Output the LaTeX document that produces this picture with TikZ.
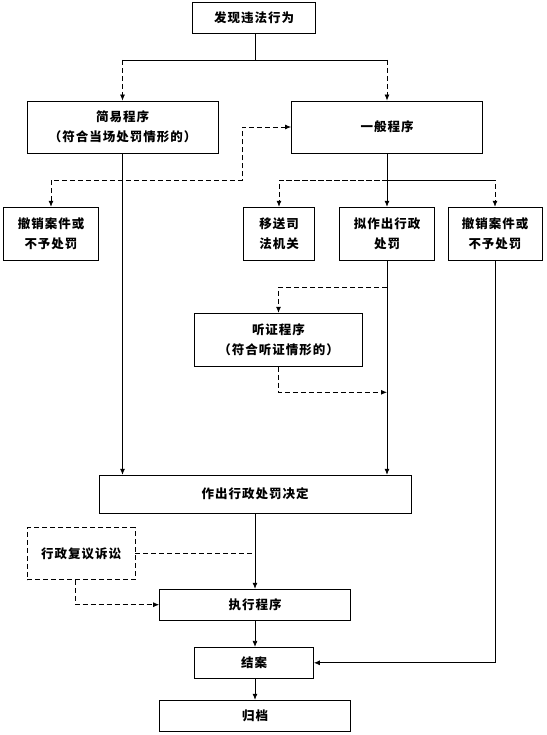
\documentclass[tikz,border=0pt]{standalone}
\usepackage{fontspec}
\setmainfont{Noto Sans CJK SC}[LetterSpace=8]
\usetikzlibrary{arrows.meta}

\begin{document}
\begin{tikzpicture}[x=1pt, y=-1pt,
    box/.style={rectangle, draw=black, line width=0.8pt, text centered, align=center, inner sep=0pt, font=\fontsize{12.5}{20}\selectfont\bfseries},
    dbox/.style={box, dash pattern=on 5pt off 3pt},
    arrow/.style={line width=0.8pt, -{Latex[length=6pt,width=5pt]}},
    darrow/.style={arrow, dash pattern=on 5pt off 3pt},
    dline/.style={line width=0.8pt, dash pattern=on 5pt off 3pt}
]
    \useasboundingbox (0,0) rectangle (546,735);

    % top
    \node[box, minimum width=123pt, minimum height=31pt] (found) at (254,17.5) {发现违法行为};
    \node[box, minimum width=191pt, minimum height=52pt] (simple) at (122.5,127) {简易程序\\（符合当场处罚情形的）};
    \node[box, minimum width=191pt, minimum height=52pt] (general) at (387,127) {一般程序};

    % third row
    \node[box, minimum width=95pt, minimum height=53pt] (revokeL) at (51,233.7) {撤销案件或\\不予处罚};
    \node[box, minimum width=71pt, minimum height=53pt] (transfer) at (279,233.7) {移送司\\法机关};
    \node[box, minimum width=95pt, minimum height=53pt] (propose) at (387,233.7) {拟作出行政\\处罚};
    \node[box, minimum width=94pt, minimum height=53pt] (revokeR) at (495,233.7) {撤销案件或\\不予处罚};

    \node[box, minimum width=168pt, minimum height=53pt] (hearing) at (278.5,339.7) {听证程序\\（符合听证情形的）};

    % bottom
    \node[box, minimum width=312pt, minimum height=38pt] (decide) at (255,494.2) {作出行政处罚决定};
    \node[dbox, minimum width=108pt, minimum height=52pt] (review) at (81,553.8) {行政复议诉讼};
    \node[box, minimum width=191pt, minimum height=31pt] (execute) at (255,604.7) {执行程序};
    \node[box, minimum width=119pt, minimum height=31pt] (close) at (254,662.8) {结案};
    \node[box, minimum width=191pt, minimum height=31pt] (archive) at (255,715.7) {归档};

    \coordinate (split) at (255,60);
    \coordinate (turn) at (242.3,180);
    \coordinate (fork) at (387,180);
    \coordinate (hearin) at (387,287.3);
    \coordinate (hearout) at (387,392.3);

    \draw[line width=0.8pt] (found.south -| split) -- (split);
    \draw[line width=0.8pt] (simple.north |- split) -- (general.north |- split);
    \draw[darrow] (simple.north |- split) -- (simple.north);
    \draw[darrow] (general.north |- split) -- (general.north);

    \draw[darrow, {Latex[length=6pt,width=5pt]}-{Latex[length=6pt,width=5pt]}] (revokeL.north) |- (turn) |- (general.west);

    \draw[arrow] (general.south) -- (propose.north);
    \draw[dline] (fork -| transfer.north) -- (fork -| revokeR.north);
    \draw[darrow] (fork) -| (transfer.north);
    \draw[darrow] (fork) -| (revokeR.north);

    \draw[arrow] (simple.south) -- (simple.south |- decide.north);
    \draw[arrow] (propose.south) -- (propose.south |- decide.north);
    \draw[darrow] (hearin) -| (hearing.north);
    \draw[darrow] (hearing.south) |- (hearout);

    \draw[arrow] (revokeR.south) |- (close.east);

    \draw[arrow] (decide.south) -- (execute.north);
    \draw[dline] (review.east) -- (review.east -| decide.south);
    \draw[darrow] ([xshift=-6pt]review.south) |- (execute.west);
    \draw[arrow] (execute.south) -- (close.north -| execute.south);
    \draw[arrow] (close.south -| archive.north) -- (archive.north);
\end{tikzpicture}
\end{document}
